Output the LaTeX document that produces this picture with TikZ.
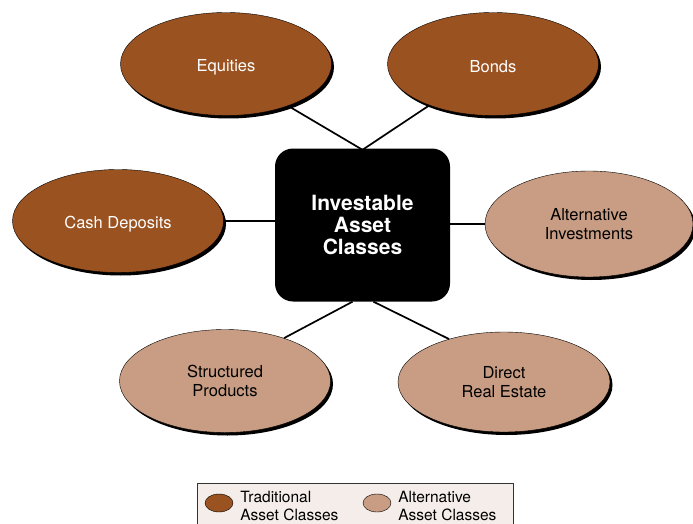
\documentclass[tikz,border=0pt]{standalone}
\usepackage{fontspec}
\setmainfont{TeX Gyre Heros}
\usepackage{xcolor}
\usepackage{tikz}
\usetikzlibrary{positioning,shapes.geometric,shadows}

\definecolor{tradbrown}{RGB}{154,82,32}
\definecolor{alttan}{RGB}{200,157,132}
\definecolor{legendbg}{RGB}{244,237,234}

\newcommand{\lowered}[1]{\raisebox{-3pt}[\height][\depth]{#1}}

\begin{document}
\begin{tikzpicture}[
    x=1pt, y=-1pt,
    asset/.style={ellipse, draw, thin, inner sep=0pt, align=center,
        minimum width=211pt, minimum height=103pt,
        font={\fontsize{16.5}{19}\selectfont},
        drop shadow={shadow xshift=2.5pt, shadow yshift=-3pt, fill=black, opacity=1}},   % Style for the asset ellipses
    trad/.style={asset, fill=tradbrown, text=white},   % Traditional asset classes
    alt/.style={asset, fill=alttan, text=black},       % Alternative asset classes
    hub/.style={rectangle, fill=black, text=white, rounded corners=18pt, align=center,
        minimum width=175pt, minimum height=153pt,
        font={\bfseries\fontsize{21}{22}\selectfont}},  % Style for the centre box
    link/.style={line width=1.7pt},                     % Style for the connectors
    keyoval/.style={ellipse, draw, thin, minimum width=28pt, minimum height=18pt, inner sep=0pt},
    keytext/.style={anchor=west, align=left, inner sep=0pt, font={\fontsize{15.5}{17.5}\selectfont}}
    ]
    \useasboundingbox (0,0) rectangle (693,524);

    % Centre box
    \node[hub] (hub) at (362.5,225) {Investable\\Asset\\Classes};

    % Traditional asset classes
    \node[trad] (eq) at (226,64) {\lowered{Equities}};
    \node[trad] (bd) at (493,64) {\lowered{Bonds}};
    \node[trad] (cd) at (118,221) {\lowered{Cash Deposits}};

    % Alternative asset classes
    \node[alt, minimum width=208pt, minimum height=106pt] (ai) at (589,224) {Alternative\\Investments};
    \node[alt] (sp) at (225,381) {Structured\\Products};
    \node[alt, minimum width=212pt, minimum height=100pt] (re) at (504,382) {Direct\\Real Estate};

    % Connectors to the centre box
    \draw[link] (eq.-34) -- ([yshift=-1.5pt]hub.north);
    \draw[link] (bd.-147) -- ([yshift=-1.5pt]hub.north);
    \draw[link] (cd.east) -- (cd.east -| hub.west);
    \draw[link] (ai.west) -- (ai.west -| hub.east);
    \draw[link] (sp.36) -- ([xshift=-10pt]hub.south);
    \draw[link] (re.142) -- ([xshift=11pt]hub.south);

    % Legend
    \fill[legendbg] (197,483) rectangle (513,530);
    \draw[thin, black!80] (197,530) |- (513,483) -- (513,530);
    \node[keyoval, fill=tradbrown] (k1) at (219,503) {};
    \node[keytext, right=7pt of k1, yshift=-3pt] (t1) {Traditional\\Asset Classes};
    \node[keyoval, fill=alttan] (k2) at (377,503) {};
    \node[keytext, right=7pt of k2, yshift=-3pt] (t2) {Alternative\\Asset Classes};

\end{tikzpicture}
\end{document}
